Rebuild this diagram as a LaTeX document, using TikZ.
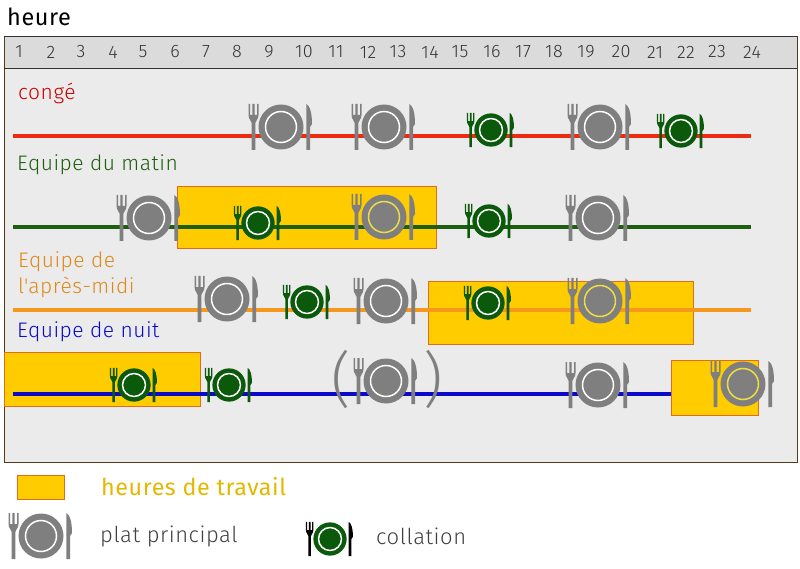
\documentclass[tikz,border=0pt]{standalone}
\usepackage{fontspec}
\setmainfont{Fira Sans}[LetterSpace=2.5]
\newfontfamily\lightfont{Fira Sans Light}[LetterSpace=2.5]
\usepackage{tikz}

\definecolor{bandyellow}{HTML}{FFCC00}
\definecolor{bandedge}{HTML}{DE6E1E}
\definecolor{platgray}{HTML}{7F7F7F}
\definecolor{snackgreen}{HTML}{0B5A0B}
\definecolor{ringyellow}{HTML}{EEDD44}
\definecolor{linered}{HTML}{EE2A10}
\definecolor{linegreen}{HTML}{1E5E10}
\definecolor{lineorange}{HTML}{F7981D}
\definecolor{lineblue}{HTML}{0A0AC8}

\tikzset{
  band/.style={draw=bandedge, fill=bandyellow, line width=1pt},
  dayline/.style={line width=4pt},
  hour/.style={font=\lightfont\fontsize{18}{20}\selectfont, text=black!80, inner sep=0pt},
  rowlabel/.style={font=\lightfont\fontsize{21}{26}\selectfont, anchor=west, inner sep=0pt, align=left},
  legendlabel/.style={font=\lightfont\fontsize{22}{26}\selectfont, text=black!75, anchor=west, inner sep=0pt},
  ringcolor/.store in=\ringcol, ringcolor=white,
  cutlery/.store in=\cutlerycol, cutlery=platgray,
  pics/meal/.style={code={
    \fill[\cutlerycol] (-32.5,-23) -- (-32.5,-12) .. controls (-32.5,-7) and (-29.3,-7) .. (-29.3,-4)
      -- (-29.3,23) -- (-25.7,23) -- (-25.7,-4) .. controls (-25.7,-7) and (-22.5,-7) .. (-22.5,-12)
      -- (-22.5,-23) -- (-24,-23) -- (-24,-12) -- (-26.3,-12) -- (-26.3,-23) -- (-28.7,-23)
      -- (-28.7,-12) -- (-31,-12) -- (-31,-23) -- cycle;
    \fill[\cutlerycol] (25.3,23) -- (25.3,-23) .. controls (29,-21) and (31,-14) .. (31,-3)
      -- (29,0) -- (29,23) -- cycle;
  }},
  pics/dish/.style={code={
    \fill[#1] (0,0) circle (22.5);
    \draw[\ringcol, line width=1.5pt] (0,0) circle (15.5);
  }},
}

\newcommand{\plat}[3][white]{
  \pic[ringcolor=#1, cutlery=platgray] at (#2,#3) {meal};
  \pic[ringcolor=#1] at (#2,#3) {dish=platgray};
}
\newcommand{\snack}[3][snackgreen]{
  \pic[cutlery=#1, scale=0.74] at (#2,#3) {meal};
  \pic[ringcolor=white, scale=0.74] at (#2,#3) {dish=snackgreen};
}

\begin{document}
\begin{tikzpicture}[x=1pt, y=-1pt]
\useasboundingbox (0,0) rectangle (800,569);

% frame and hour row
\fill[black!8] (4,37) rectangle (797,462);
\fill[black!14] (4,37) rectangle (797,69);
\draw[black!55!brown, line width=1pt] (4,37) rectangle (797,462);
\draw[black!80, line width=1pt] (4,69) -- (797,69);
\draw[black!80, line width=1pt] (4,37) -- (797,37);

\node[font=\fontsize{23.5}{26}\selectfont, anchor=west, inner sep=0pt] (heure) at (7,17) {heure};

\foreach \h/\x in {1/19,2/51,3/81,4/113,5/143,6/175,7/206,8/237,9/269,10/304,11/336,12/368,
    13/398,14/430,15/460,16/492,17/523,18/554,19/586,20/621,21/655,22/686,23/717,24/752}
  \node[hour] (h\h) at (\x,52) {\h};

% working hours
\draw[band] (177,187) rectangle (436,249);
\draw[band] (428,281) rectangle (693,344);
\draw[band] (4,352) rectangle (200,406);

% day lines
\coordinate (congeL) at (13,136);   \coordinate (congeR) at (751,136);
\coordinate (matinL) at (13,227);   \coordinate (matinR) at (751,227);
\coordinate (apresL) at (13,310);   \coordinate (apresR) at (751,310);
\coordinate (nuitL) at (13,394);    \coordinate (nuitR) at (672,394);
\draw[linered, dayline] (congeL) -- (congeR);
\draw[linegreen, dayline] (matinL) -- (matinR);
\draw[lineorange, dayline] (apresL) -- (apresR);
\draw[lineblue, dayline] (nuitL) -- (nuitR);
\draw[band] (671,360) rectangle (758,415);

\node[rowlabel, text=red!80!black] (conge) at (18,93) {congé};
\node[rowlabel, text=linegreen] (matin) at (17,165) {Equipe du matin};
\node[rowlabel, text=lineorange!90!black] (apres) at (18,275) {Equipe de\\l\textquotesingle après-midi};
\node[rowlabel, text=lineblue] (nuit) at (17,332) {Equipe de nuit};

% meals
\plat{281}{127} \plat{384}{127} \plat{600}{127}
\snack{491}{130} \snack{681}{131}

\plat{149}{218} \snack{258}{223} \plat[ringyellow]{384}{217}
\snack{489}{221} \plat{598}{218}

\plat{227}{299} \snack{307}{302} \plat{386}{301}
\snack{488}{303} \plat[ringyellow]{600}{301}

\snack{134}{385} \snack{229}{385} \plat{386}{381}
\plat{598}{385} \plat[ringyellow]{743}{384}

% optional meal
\node[font=\lightfont\fontsize{60}{62}\selectfont, text=platgray, inner sep=0pt] (openpar) at (341,379) {(};
\node[font=\lightfont\fontsize{60}{62}\selectfont, text=platgray, inner sep=0pt] (closepar) at (433,379) {)};

% legend
\draw[band] (17,475) rectangle (64,499);
\node[font=\fontsize{23.3}{26}\selectfont, text=bandyellow!90!black, anchor=west, inner sep=0pt] (travail) at (101,487) {heures de travail};
\plat{41}{536}
\node[legendlabel] (principal) at (100,536) {plat principal};
\snack[black]{330}{539}
\node[legendlabel] (collation) at (376,536) {collation};

\end{tikzpicture}
\end{document}
